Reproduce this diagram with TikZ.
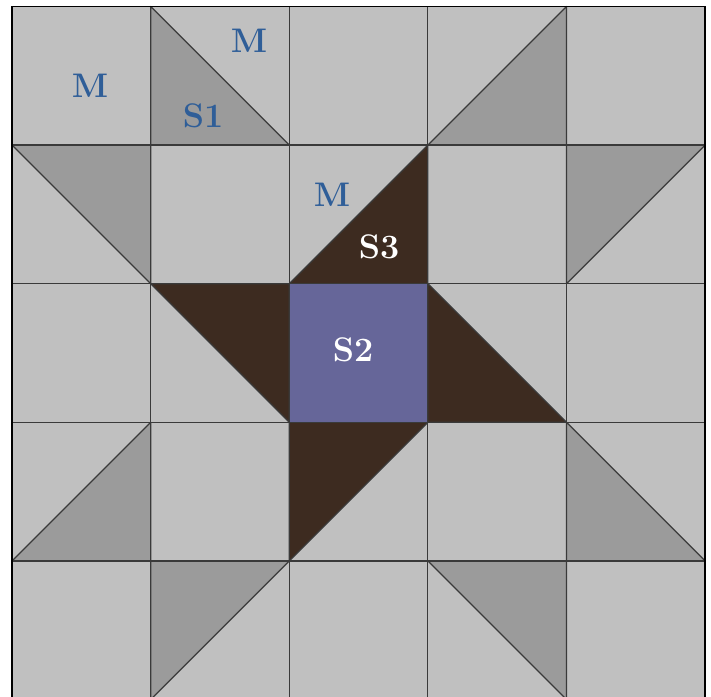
\documentclass[tikz,border=0pt]{standalone}
\usepackage{xcolor}
\usepackage{tikz}
\definecolor{quiltlight}{HTML}{C0C0C0}
\definecolor{quiltmid}{HTML}{9B9B9B}
\definecolor{quiltbrown}{HTML}{3D2B20}
\definecolor{quiltpurple}{HTML}{666699}
\definecolor{quiltblue}{HTML}{2F5E98}
\definecolor{quiltline}{HTML}{3A3A3A}

\begin{document}
\begin{tikzpicture}[
  scale=2,
  patch/.style={draw=quiltline,line width=0.5pt,line join=round},
  mid/.style={patch,fill=quiltmid},
  dark/.style={patch,fill=quiltbrown},
  tag/.style={font=\fontsize{14}{16}\selectfont\bfseries,text=quiltblue,inner sep=0pt},
  whitetag/.style={tag,text=white}
]
\useasboundingbox (-0.087,0.025) rectangle (5.043,5.047);
\fill[quiltlight] (0,0) rectangle (5,5);
% medium grey triangles
\draw[mid] (1,5) -- (1,4) -- (2,4) -- cycle;
\draw[mid] (3,4) -- (4,4) -- (4,5) -- cycle;
\draw[mid] (0,4) -- (1,4) -- (1,3) -- cycle;
\draw[mid] (4,4) -- (5,4) -- (4,3) -- cycle;
\draw[mid] (0,1) -- (1,1) -- (1,2) -- cycle;
\draw[mid] (4,2) -- (4,1) -- (5,1) -- cycle;
\draw[mid] (1,1) -- (2,1) -- (1,0) -- cycle;
\draw[mid] (3,1) -- (4,1) -- (4,0) -- cycle;
% star centre
\draw[dark] (2,3) -- (3,3) -- (3,4) -- cycle;
\draw[dark] (1,3) -- (2,3) -- (2,2) -- cycle;
\draw[dark] (3,3) -- (3,2) -- (4,2) -- cycle;
\draw[dark] (2,2) -- (3,2) -- (2,1) -- cycle;
\draw[patch,fill=quiltpurple] (2,2) rectangle (3,3);
\draw[patch] (0,0) grid (5,5);
\draw[draw=black,line width=0.6pt] (0,0) rectangle (5,5);
\node[tag] (m1) at (0.563,4.426) {M};
\node[tag] (m2) at (1.71,4.751) {M};
\node[tag] (s1) at (1.378,4.21) {S1};
\node[tag] (m3) at (2.309,3.64) {M};
\node[whitetag] (s3) at (2.648,3.265) {S3};
\node[whitetag] (s2) at (2.46,2.522) {S2};
\end{tikzpicture}
\end{document}
